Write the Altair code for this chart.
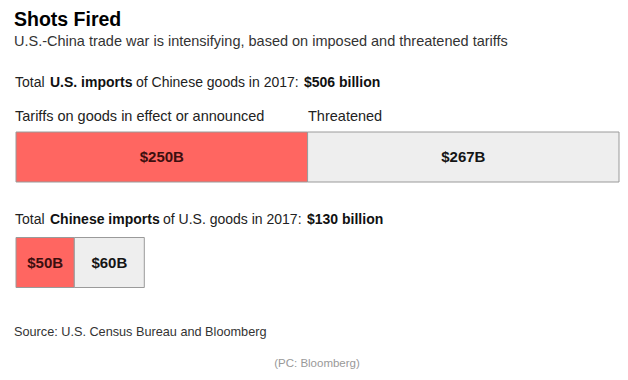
import altair as alt
import pandas as pd

# ---- data ----
rows = ["US", "US", "CN", "CN"]
status = ["In effect", "Threatened", "In effect", "Threatened"]
values = [250, 267, 50, 60]
labels = ["$250B", "$267B", "$50B", "$60B"]

df = pd.DataFrame({"row": rows, "status": status, "value": values, "label": labels})
df["end"] = df.groupby("row")["value"].cumsum()
df["start"] = df["end"] - df["value"]
df["mid"] = (df["start"] + df["end"]) / 2

FONT = "Liberation Sans"

xscale = alt.Scale(domain=[0, 517], range=[8, 611])
yscale = alt.Scale(type="point", domain=["US", "CN"], range=[149, 254.5], padding=0)
cscale = alt.Scale(domain=["In effect", "Threatened"], range=["#ff6661", "#eeeeee"])

base = alt.Chart(df)

bars = base.mark_bar(height=50, stroke="#9a9a9a", strokeWidth=1).encode(
    x=alt.X("start:Q", scale=xscale, axis=None),
    x2="end:Q",
    y=alt.Y("row:N", scale=yscale, axis=None),
    color=alt.Color("status:N", scale=cscale, legend=None),
)

bar_text = base.mark_text(font=FONT, fontSize=15, fontWeight="bold", baseline="middle", align="center").encode(
    x=alt.X("mid:Q", scale=xscale, axis=None),
    y=alt.Y("row:N", scale=yscale, axis=None),
    text="label:N",
    color=alt.condition(alt.datum.status == "In effect", alt.value("#3d0f0f"), alt.value("#151515")),
)


def txt(s, x, y, size, weight="normal", color="#222222", align="left"):
    return alt.Chart(pd.DataFrame({"t": [s]})).mark_text(
        font=FONT, fontSize=size, fontWeight=weight, color=color, align=align, baseline="alphabetic"
    ).encode(text="t:N", x=alt.value(x), y=alt.value(y))


texts = [
    txt("Shots Fired", 6, 18, 19.5, "bold", "#000000"),
    txt("U.S.-China trade war is intensifying, based on imposed and threatened tariffs", 6, 38, 14.5, "normal", "#333333"),
    txt("Total", 7, 79, 14),
    txt("U.S. imports", 42, 79, 14, "bold", "#111111"),
    txt("of Chinese goods in 2017:", 128, 79, 14),
    txt("$506 billion", 296, 79, 14, "bold", "#111111"),
    txt("Tariffs on goods in effect or announced", 7, 113, 14.5),
    txt("Threatened", 300, 113, 14.5),
    txt("Total", 7, 216, 14),
    txt("Chinese imports", 42, 216, 14, "bold", "#111111"),
    txt("of U.S. goods in 2017:", 155, 216, 14),
    txt("$130 billion", 299, 216, 14, "bold", "#111111"),
    txt("Source: U.S. Census Bureau and Bloomberg", 6, 328, 12.7, "normal", "#333333"),
    txt("(PC: Bloomberg)", 309, 359, 11.5, "normal", "#999999", "center"),
]

chart = alt.layer(bars, bar_text, *texts).properties(
    width=612, height=364, autosize=alt.AutoSizeParams(type="none"), padding=0, background="white"
).configure_view(stroke=None)

chart.save("out.html", embed_options={"renderer": "svg", "actions": False})
